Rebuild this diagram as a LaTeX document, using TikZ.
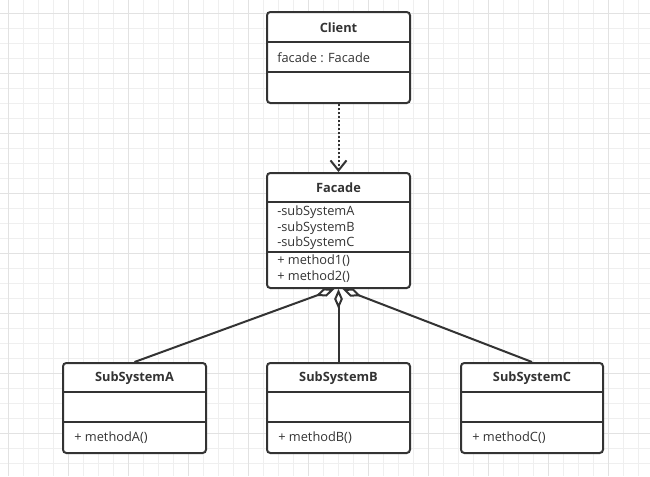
\documentclass[tikz,border=0pt]{standalone}
\usepackage{fontspec}
\setmainfont{Open Sans}
\usetikzlibrary{arrows.meta,calc}
\definecolor{ink}{HTML}{333333}
\definecolor{gminor}{HTML}{EFEFEF}
\definecolor{gmajor}{HTML}{E2E2E2}
\tikzset{
  cls/.style={draw=ink, line width=1.5pt, rounded corners=2.5pt, fill=white, inner sep=0pt},
  divider/.style={draw=ink, line width=1.5pt},
  ttl/.style={font=\fontsize{9.6}{11}\selectfont\bfseries, text=ink, inner sep=0pt},
  txt/.style={font=\fontsize{9.6}{11}\selectfont, text=ink, inner sep=0pt, anchor=west},
  dep/.style={draw=ink, line width=1.5pt, dash pattern=on 1.5pt off 1.5pt, -{Straight Barb[length=7.5pt,width=12pt,line width=1.5pt]}},
  agg/.style={draw=ink, line width=1.5pt, -{Diamond[open,fill=white,length=15pt,width=6.5pt,line width=1.5pt]}},
}
\begin{document}
\begin{tikzpicture}[x=0.75pt,y=-0.75pt]
\useasboundingbox (0,0) rectangle (650,476);
\fill[white] (0,0) rectangle (650,476);
\foreach \x in {8,23,...,650} \draw[gminor,line width=0.75pt] (\x,0) -- (\x,476);
\foreach \y in {13,28,...,476} \draw[gminor,line width=0.75pt] (0,\y) -- (650,\y);
\foreach \x in {8,68,...,650} \draw[gmajor,line width=0.75pt] (\x,0) -- (\x,476);
\foreach \y in {13,73,...,476} \draw[gmajor,line width=0.75pt] (0,\y) -- (650,\y);

% Client
\node[cls, minimum width=107.25pt, minimum height=68.25pt] (client) at (338.5,57.5) {};
\draw[divider] (client.north west) ++(0,31) -- ++(143,0);
\draw[divider] (client.north west) ++(0,61) -- ++(143,0);
\node[ttl] (clientT) at (338.5,28) {Client};
\node[txt] (clientA) at (277,58) {facade : Facade};

% Facade
\node[cls, minimum width=107.25pt, minimum height=86.25pt] (facade) at (338.5,230.5) {};
\draw[divider] (facade.north west) ++(0,30) -- ++(143,0);
\draw[divider] (facade.north west) ++(0,80) -- ++(143,0);
\node[ttl] (facadeT) at (338.5,188) {Facade};
\node[txt] (fa1) at (277,212) {-subSystemA};
\node[txt] (fa2) at (277,228) {-subSystemB};
\node[txt] (fa3) at (277,243) {-subSystemC};
\node[txt] (fm1) at (277,261) {+ method1()};
\node[txt] (fm2) at (277,277) {+ method2()};

% Subsystems
\node[cls, minimum width=107.25pt, minimum height=67.5pt] (subA) at (134.5,408) {};
\node[cls, minimum width=107.25pt, minimum height=67.5pt] (subB) at (338.5,408) {};
\node[cls, minimum width=106.5pt, minimum height=67.5pt] (subC) at (532,408) {};
\foreach \n/\w in {subA/143,subB/143,subC/142}{
  \draw[divider] (\n.north west) ++(0,30) -- ++(\w,0);
  \draw[divider] (\n.north west) ++(0,60) -- ++(\w,0);
}
\node[ttl] (subAT) at (134.5,378) {SubSystemA};
\node[ttl] (subBT) at (338.5,378) {SubSystemB};
\node[ttl] (subCT) at (532,378) {SubSystemC};
\node[txt] (subAM) at (74,438) {+ methodA()};
\node[txt] (subBM) at (278,438) {+ methodB()};
\node[txt] (subCM) at (472,438) {+ methodC()};

% Connectors
\draw[dep] (client.south) -- (facade.north);
\draw[agg] (subA.north) -- ([xshift=-3pt]facade.south);
\draw[agg] (subC.north) -- ([xshift=3pt]facade.south);
\draw[agg] (subB.north) -- (facade.south);
\end{tikzpicture}
\end{document}
